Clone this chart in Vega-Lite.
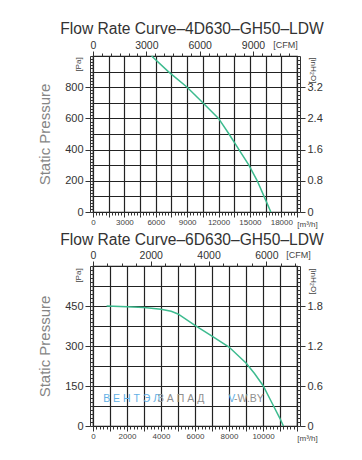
{
  "$schema": "https://vega.github.io/schema/vega-lite/v6.json",
  "padding": {"left": 36, "top": 21, "right": 0, "bottom": 0},
  "background": "white",
  "config": {
    "view": {"stroke": "#222", "strokeWidth": 1.2},
    "font": "Liberation Sans",
    "axis": {"labelFont": "Liberation Sans", "titleFont": "Liberation Sans", "labelColor": "#333", "tickColor": "#333", "domainColor": "#333", "titleFontWeight": "normal", "titleColor": "#444", "labelFlush": false, "labelOverlap": false, "grid": false, "tickWidth": 1, "labelBound": false},
    "title": {"font": "Liberation Sans", "fontWeight": "normal", "color": "#333", "fontSize": 15.6}
  },
  "spacing": 3,
  "vconcat": [
    {
      "title": {"text": "Flow Rate Curve–4D630–GH50–LDW", "anchor": "middle", "offset": 2, "dx": -3},
      "width": 204,
      "height": 156,
      "data": {"values": [
        {"flow": 5600, "pa": 1000}, {"flow": 7200, "pa": 900}, {"flow": 9000, "pa": 800}, {"flow": 10500, "pa": 700}, {"flow": 12000, "pa": 600}, {"flow": 13000, "pa": 500}, {"flow": 13950, "pa": 400}, {"flow": 14900, "pa": 300}, {"flow": 15700, "pa": 200}, {"flow": 16350, "pa": 100}, {"flow": 17000, "pa": 0}
      ]},
      "layer": [
        {
          "mark": {"type": "line", "opacity": 0},
          "encoding": {
            "x": {"field": "flow", "type": "quantitative", "scale": {"domain": [0, 19500], "nice": false}, "axis": {"orient": "bottom", "values": [0,1500,3000,4500,6000,7500,9000,10500,12000,13500,15000,16500,18000,19500], "grid": true, "gridColor": "#222", "gridOpacity": 1, "gridWidth": 1.2, "ticks": false, "labels": false, "domain": false, "title": null}},
            "y": {"field": "pa", "type": "quantitative", "scale": {"domain": [0, 1000], "nice": false}, "axis": {"orient": "left", "values": [0,100,200,300,400,500,600,700,800,900,1000], "grid": true, "gridColor": "#222", "gridOpacity": 1, "gridWidth": 1.2, "ticks": false, "labels": false, "domain": false, "title": "Static Pressure", "titleFontSize": 15, "titleColor": "#858585", "titleX": -49, "titleY": 78, "titleAngle": -90, "titleAlign": "center", "titleBaseline": "middle"}}
          }
        },
        {
          "mark": {"type": "line", "opacity": 0},
          "encoding": {
            "x": {"field": "flow", "type": "quantitative", "scale": {"domain": [0, 19500], "nice": false}, "axis": {"orient": "bottom", "values": [0,1500,3000,4500,6000,7500,9000,10500,12000,13500,15000,16500,18000,19500], "labelExpr": "datum.value % 3000 == 0 && datum.value < 19500 ? format(datum.value, 'd') : ''", "tickSize": 5, "labelFontSize": 8, "labelPadding": 1, "labelColor": "#444", "domain": false, "title": "[m³/h]", "titleFontSize": 8, "titleX": 214, "titleY": 14, "titleAlign": "center", "titleBaseline": "alphabetic"}},
            "y": {"field": "pa", "type": "quantitative", "scale": {"domain": [0, 1000], "nice": false}, "axis": {"orient": "left", "values": [0,200,400,600,800], "tickSize": 5, "labelFontSize": 11, "labelPadding": 2, "domain": true, "offset": 3, "title": "[Pa]", "titleFontSize": 8, "titleX": -12, "titleY": 8, "titleAngle": -90, "titleAlign": "center", "titleBaseline": "middle"}}
          }
        },
        {
          "mark": {"type": "line", "opacity": 0},
          "encoding": {
            "x": {"field": "flow", "type": "quantitative", "scale": {"domain": [0, 19500], "nice": false}, "axis": {"orient": "bottom", "values": [0,300,600,900,1200,1500,1800,2100,2400,2700,3000,3300,3600,3900,4200,4500,4800,5100,5400,5700,6000,6300,6600,6900,7200,7500,7800,8100,8400,8700,9000,9300,9600,9900,10200,10500,10800,11100,11400,11700,12000,12300,12600,12900,13200,13500,13800,14100,14400,14700,15000,15300,15600,15900,16200,16500,16800,17100,17400,17700,18000,18300,18600,18900,19200,19500], "tickSize": 3, "labels": false, "domain": false, "title": null}},
            "y": {"field": "pa", "type": "quantitative", "scale": {"domain": [0, 1000], "nice": false}, "axis": {"orient": "left", "values": [0,20,40,60,80,100,120,140,160,180,200,220,240,260,280,300,320,340,360,380,400,420,440,460,480,500,520,540,560,580,600,620,640,660,680,700,720,740,760,780,800,820,840,860,880,900,920,940,960,980,1000], "tickSize": -3, "offset": 3, "labels": false, "domain": false, "title": null}}
          }
        },
        {
          "mark": {"type": "line", "opacity": 0},
          "encoding": {
            "x": {"field": "flow", "type": "quantitative", "scale": {"domain": [0, 19500], "nice": false}, "axis": {"orient": "top", "values": [0, 5097.03, 10194.06, 15291.09], "labelExpr": "format(round(datum.value / 1.69901), 'd')", "tickSize": 5, "labelFontSize": 10.5, "labelPadding": 1, "domain": false, "title": "[CFM]", "titleFontSize": 9, "titleX": 192, "titleY": -9, "titleAlign": "center", "titleBaseline": "alphabetic"}},
            "y": {"field": "pa", "type": "quantitative", "scale": {"domain": [0, 1000], "nice": false}, "axis": {"orient": "right", "values": [0,200,400,600,800], "labelExpr": "datum.value == 0 ? '0' : format(datum.value / 250, '.1f')", "tickSize": 5, "labelFontSize": 11, "labelPadding": 2, "domain": true, "offset": 3, "title": "[inH₂O]", "titleFontSize": 8, "titleX": 12, "titleY": 14, "titleAngle": 90, "titleAlign": "center", "titleBaseline": "middle"}}
          }
        },
        {
          "mark": {"type": "line", "opacity": 0},
          "encoding": {
            "x": {"field": "flow", "type": "quantitative", "scale": {"domain": [0, 19500], "nice": false}, "axis": {"orient": "top", "values": [0,849.5,1699,2548.5,3398,4247.5,5097,5946.6,6796.1,7645.6,8495.1,9344.6,10194.1,11043.6,11893.1,12742.6,13592.1,14441.6,15291.1,16140.6,16990.1,17839.6,18689.1], "tickSize": 3, "labels": false, "domain": false, "title": null}},
            "y": {"field": "pa", "type": "quantitative", "scale": {"domain": [0, 1000], "nice": false}, "axis": {"orient": "right", "values": [0,25,50,75,100,125,150,175,200,225,250,275,300,325,350,375,400,425,450,475,500,525,550,575,600,625,650,675,700,725,750,775,800,825,850,875,900,925,950,975,1000], "tickSize": -3, "offset": 3, "labels": false, "domain": false, "title": null}}
          }
        },
        {
          "mark": {"type": "line", "color": "#3dbb8f", "strokeWidth": 1.5},
          "encoding": {
            "x": {"field": "flow", "type": "quantitative", "scale": {"domain": [0, 19500], "nice": false}, "axis": null},
            "y": {"field": "pa", "type": "quantitative", "scale": {"domain": [0, 1000], "nice": false}, "axis": null}
          }
        }
      ],
      "resolve": {"axis": {"x": "independent", "y": "independent"}}
    },
    {
      "title": {"text": "Flow Rate Curve–6D630–GH50–LDW", "anchor": "middle", "offset": 1, "dx": -3},
      "width": 204,
      "height": 160,
      "data": {"values": [
        {"flow": 800, "pa": 450}, {"flow": 2000, "pa": 447}, {"flow": 3000, "pa": 444}, {"flow": 4000, "pa": 438}, {"flow": 4600, "pa": 430}, {"flow": 5000, "pa": 420}, {"flow": 6000, "pa": 377}, {"flow": 7000, "pa": 337}, {"flow": 8000, "pa": 296}, {"flow": 9000, "pa": 236}, {"flow": 9500, "pa": 197}, {"flow": 10000, "pa": 152}, {"flow": 10500, "pa": 90}, {"flow": 11000, "pa": 28}, {"flow": 11200, "pa": 0}
      ]},
      "layer": [
        {
          "mark": {"type": "line", "opacity": 0},
          "encoding": {
            "x": {"field": "flow", "type": "quantitative", "scale": {"domain": [0, 12000], "nice": false}, "axis": {"orient": "bottom", "values": [0,1000,2000,3000,4000,5000,6000,7000,8000,9000,10000,11000,12000], "grid": true, "gridColor": "#222", "gridOpacity": 1, "gridWidth": 1.2, "ticks": false, "labels": false, "domain": false, "title": null}},
            "y": {"field": "pa", "type": "quantitative", "scale": {"domain": [0, 600], "nice": false}, "axis": {"orient": "left", "values": [0,75,150,225,300,375,450,525,600], "grid": true, "gridColor": "#222", "gridOpacity": 1, "gridWidth": 1.2, "ticks": false, "labels": false, "domain": false, "title": "Static Pressure", "titleFontSize": 15, "titleColor": "#858585", "titleX": -49, "titleY": 80, "titleAngle": -90, "titleAlign": "center", "titleBaseline": "middle"}}
          }
        },
        {
          "mark": {"type": "line", "opacity": 0},
          "encoding": {
            "x": {"field": "flow", "type": "quantitative", "scale": {"domain": [0, 12000], "nice": false}, "axis": {"orient": "bottom", "values": [0,1000,2000,3000,4000,5000,6000,7000,8000,9000,10000,11000,12000], "labelExpr": "datum.value % 2000 == 0 && datum.value < 12000 ? format(datum.value, 'd') : ''", "tickSize": 5, "labelFontSize": 8, "labelPadding": 1, "labelColor": "#444", "domain": false, "title": "[m³/h]", "titleFontSize": 8, "titleX": 214, "titleY": 14, "titleAlign": "center", "titleBaseline": "alphabetic"}},
            "y": {"field": "pa", "type": "quantitative", "scale": {"domain": [0, 600], "nice": false}, "axis": {"orient": "left", "values": [0,150,300,450], "tickSize": 5, "labelFontSize": 11, "labelPadding": 2, "domain": true, "offset": 3, "title": "[Pa]", "titleFontSize": 8, "titleX": -12, "titleY": 9, "titleAngle": -90, "titleAlign": "center", "titleBaseline": "middle"}}
          }
        },
        {
          "mark": {"type": "line", "opacity": 0},
          "encoding": {
            "x": {"field": "flow", "type": "quantitative", "scale": {"domain": [0, 12000], "nice": false}, "axis": {"orient": "bottom", "values": [0,200,400,600,800,1000,1200,1400,1600,1800,2000,2200,2400,2600,2800,3000,3200,3400,3600,3800,4000,4200,4400,4600,4800,5000,5200,5400,5600,5800,6000,6200,6400,6600,6800,7000,7200,7400,7600,7800,8000,8200,8400,8600,8800,9000,9200,9400,9600,9800,10000,10200,10400,10600,10800,11000,11200,11400,11600,11800,12000], "tickSize": 3, "labels": false, "domain": false, "title": null}},
            "y": {"field": "pa", "type": "quantitative", "scale": {"domain": [0, 600], "nice": false}, "axis": {"orient": "left", "values": [0,15,30,45,60,75,90,105,120,135,150,165,180,195,210,225,240,255,270,285,300,315,330,345,360,375,390,405,420,435,450,465,480,495,510,525,540,555,570,585,600], "tickSize": -3, "offset": 3, "labels": false, "domain": false, "title": null}}
          }
        },
        {
          "mark": {"type": "line", "opacity": 0},
          "encoding": {
            "x": {"field": "flow", "type": "quantitative", "scale": {"domain": [0, 12000], "nice": false}, "axis": {"orient": "top", "values": [0, 3398.02, 6796.04, 10194.06], "labelExpr": "format(round(datum.value / 1.69901), 'd')", "tickSize": 5, "labelFontSize": 10.5, "labelPadding": 1, "domain": false, "title": "[CFM]", "titleFontSize": 9, "titleX": 205, "titleY": -9, "titleAlign": "center", "titleBaseline": "alphabetic"}},
            "y": {"field": "pa", "type": "quantitative", "scale": {"domain": [0, 600], "nice": false}, "axis": {"orient": "right", "values": [0,150,300,450], "labelExpr": "datum.value == 0 ? '0' : format(datum.value / 250, '.1f')", "tickSize": 5, "labelFontSize": 11, "labelPadding": 2, "domain": true, "offset": 3, "title": "[inH₂O]", "titleFontSize": 8, "titleX": 12, "titleY": 15, "titleAngle": 90, "titleAlign": "center", "titleBaseline": "middle"}}
          }
        },
        {
          "mark": {"type": "line", "opacity": 0},
          "encoding": {
            "x": {"field": "flow", "type": "quantitative", "scale": {"domain": [0, 12000], "nice": false}, "axis": {"orient": "top", "values": [0,849.5,1699,2548.5,3398,4247.5,5097,5946.6,6796.1,7645.6,8495.1,9344.6,10194.1,11043.6,11893.1], "tickSize": 3, "labels": false, "domain": false, "title": null}},
            "y": {"field": "pa", "type": "quantitative", "scale": {"domain": [0, 600], "nice": false}, "axis": {"orient": "right", "values": [0,15,30,45,60,75,90,105,120,135,150,165,180,195,210,225,240,255,270,285,300,315,330,345,360,375,390,405,420,435,450,465,480,495,510,525,540,555,570,585,600], "tickSize": -3, "offset": 3, "labels": false, "domain": false, "title": null}}
          }
        },
        {
          "mark": {"type": "line", "color": "#3dbb8f", "strokeWidth": 1.5},
          "encoding": {
            "x": {"field": "flow", "type": "quantitative", "scale": {"domain": [0, 12000], "nice": false}, "axis": null},
            "y": {"field": "pa", "type": "quantitative", "scale": {"domain": [0, 600], "nice": false}, "axis": null}
          }
        },
        {
          "data": {"values": [
            {"flow": 600, "pa": 103, "label": "В Е Н Т Э Л", "part": "blue"},
            {"flow": 3800, "pa": 103, "label": "З А П А Д", "part": "gray"},
            {"flow": 7950, "pa": 103, "label": "V", "part": "blue"},
            {"flow": 8300, "pa": 103, "label": "-W.BY", "part": "gray"}
          ]},
          "mark": {"type": "text", "align": "left", "baseline": "middle", "fontSize": 10.5},
          "encoding": {
            "x": {"field": "flow", "type": "quantitative", "scale": {"domain": [0, 12000], "nice": false}, "axis": null},
            "y": {"field": "pa", "type": "quantitative", "scale": {"domain": [0, 600], "nice": false}, "axis": null},
            "text": {"field": "label", "type": "nominal"},
            "color": {"field": "part", "type": "nominal", "scale": {"domain": ["blue", "gray"], "range": ["#62b0e6", "#8f8f8f"]}, "legend": null}
          }
        }
      ],
      "resolve": {"axis": {"x": "independent", "y": "independent"}}
    }
  ]
}
